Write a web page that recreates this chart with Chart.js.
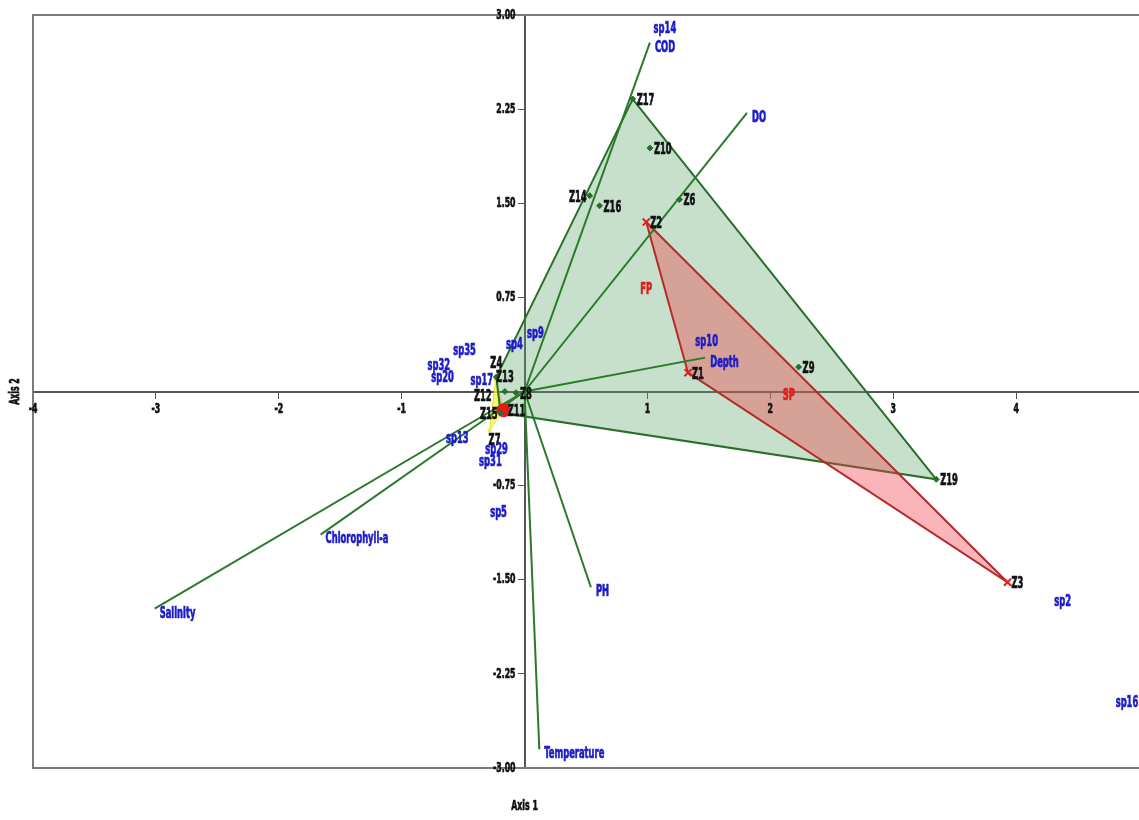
<!DOCTYPE html>
<html>
<head>
<meta charset="utf-8">
<script src="https://cdn.jsdelivr.net/npm/chart.js@4.4.0/dist/chart.umd.min.js"></script>
<style>
  html, body { margin: 0; padding: 0; background: #fff; overflow: hidden; }
  #wrap { width: 1139px; height: 820px; }
</style>
</head>
<body>
<div id="wrap"><canvas id="ccaChart"></canvas></div>
<script>
// sites, one set of arrays per group
var greenSites = ['Z17', 'Z10', 'Z14', 'Z16', 'Z6', 'Z9', 'Z19', 'Z4', 'Z13', 'Z8', 'Z15'];
var greenX = [0.88, 1.02, 0.53, 0.61, 1.26, 2.23, 3.35, -0.23, -0.16, -0.07, -0.195];
var greenY = [2.33, 1.94, 1.56, 1.48, 1.53, 0.195, -0.70, 0.115, 0.0, -0.01, -0.17];
var greenHull = ['Z17', 'Z19', 'Z15', 'Z4'];

var redSites = ['Z2', 'Z1', 'Z3'];
var redX = [0.99, 1.33, 3.93];
var redY = [1.35, 0.15, -1.52];
var redHull = ['Z2', 'Z3', 'Z1'];

var yellowSites = ['Z12', 'Z7', 'Z11'];
var yellowX = [-0.235, -0.285, -0.17];
var yellowY = [0.09, -0.31, -0.15];
var yellowHull = ['Z12', 'Z11', 'Z7'];

// environmental variables (arrow tips)
var envNames = ['COD', 'DO', 'Depth', 'PH', 'Temperature', 'Salinity', 'Chlorophyll-a'];
var envX = [1.02, 1.81, 1.47, 0.54, 0.12, -3.01, -1.66];
var envY = [2.78, 2.22, 0.27, -1.56, -2.85, -1.73, -1.14];

// species
var speciesNames = ['sp14', 'sp10', 'sp35', 'sp32', 'sp20', 'sp17', 'sp4', 'sp9', 'sp13', 'sp29', 'sp31', 'sp5', 'sp2', 'sp16'];
var speciesX = [1.05, 1.39, -0.58, -0.79, -0.76, -0.44, -0.15, 0.02, -0.64, -0.32, -0.37, -0.28, 4.31, 4.81];
var speciesY = [2.89, 0.39, 0.32, 0.20, 0.11, 0.08, 0.37, 0.46, -0.38, -0.47, -0.56, -0.97, -1.68, -2.48];

// group names
var groupNames = ['FP', 'SP'];
var groupX = [0.99, 2.15];
var groupY = [0.81, -0.04];

// labelled ticks
var xTickLabels = [-4, -3, -2, -1, 1, 2, 3, 4];
var yTickLabels = [-3, -2.25, -1.5, -0.75, 0.75, 1.5, 2.25, 3];

var FONT = "'Liberation Sans Narrow', 'DejaVu Sans Condensed', 'Arial Narrow', sans-serif";

function toPoints(names, xs, ys) {
  return names.map(function (n, i) { return { x: xs[i], y: ys[i], name: n }; });
}
function hullOf(order, names, xs, ys) {
  var pts = order.map(function (n) {
    var i = names.indexOf(n);
    return { x: xs[i], y: ys[i] };
  });
  pts.push(pts[0]);
  return pts;
}

// where a site label sits relative to its marker
var siteLabelSide = { Z14: 'left', Z12: 'leftlow', Z15: 'left', Z4: 'above', Z13: 'above', Z7: 'below' };

var datasets = [];

datasets.push({
  type: 'line', label: 'yellow hull', order: 12,
  data: hullOf(yellowHull, yellowSites, yellowX, yellowY),
  borderColor: '#e4e040', borderWidth: 1, backgroundColor: 'rgba(250,245,60,0.75)',
  fill: 'shape', pointRadius: 0, tension: 0
});
datasets.push({
  type: 'line', label: 'green hull', order: 11,
  data: hullOf(greenHull, greenSites, greenX, greenY),
  borderColor: '#2b6e2b', borderWidth: 2, backgroundColor: 'rgba(95,165,105,0.35)',
  fill: 'shape', pointRadius: 0, tension: 0
});
datasets.push({
  type: 'line', label: 'red hull', order: 10,
  data: hullOf(redHull, redSites, redX, redY),
  borderColor: '#b22a2a', borderWidth: 2, backgroundColor: 'rgba(238,60,70,0.38)',
  fill: 'shape', pointRadius: 0, tension: 0
});

envNames.forEach(function (n, i) {
  datasets.push({
    type: 'line', label: n, order: 5,
    data: [{ x: 0, y: 0, name: '' }, { x: envX[i], y: envY[i], name: n }],
    borderColor: '#2a7a2a', borderWidth: 2, pointRadius: 0, fill: false, tension: 0,
    labelColor: '#1c1cc8', labelPos: 'tip'
  });
});

datasets.push({
  label: 'green sites', order: 2,
  data: toPoints(greenSites, greenX, greenY),
  pointStyle: 'rectRot', pointRadius: 3, backgroundColor: '#2b6e2b', borderColor: '#2b6e2b',
  labelColor: '#111', labelPos: 'site'
});
datasets.push({
  label: 'yellow sites', order: 2,
  data: toPoints(yellowSites, yellowX, yellowY),
  pointStyle: 'circle',
  pointRadius: function (c) { return c.raw && c.raw.name === 'Z11' ? 7 : 2; },
  backgroundColor: function (c) { return c.raw && c.raw.name === 'Z11' ? '#e81818' : '#f0ea30'; },
  borderWidth: 0,
  labelColor: '#111', labelPos: 'site'
});
datasets.push({
  label: 'red sites', order: 2,
  data: toPoints(redSites, redX, redY),
  pointStyle: 'crossRot', pointRadius: 5, borderColor: '#e02020', borderWidth: 2,
  labelColor: '#111', labelPos: 'site'
});
datasets.push({
  label: 'species', order: 1,
  data: toPoints(speciesNames, speciesX, speciesY),
  pointRadius: 0,
  labelColor: '#1c1cc8', labelPos: 'text'
});
datasets.push({
  label: 'groups', order: 1,
  data: toPoints(groupNames, groupX, groupY),
  pointRadius: 0,
  labelColor: '#e02020', labelPos: 'center'
});

// condensed heavy text, squeezed horizontally
function narrowText(ctx, text, x, y, align) {
  ctx.save();
  ctx.translate(x, y);
  ctx.scale(0.62, 1);
  ctx.textAlign = align;
  ctx.lineWidth = 0.7;
  ctx.strokeStyle = ctx.fillStyle;
  ctx.fillText(text, 0, 0);
  ctx.strokeText(text, 0, 0);
  ctx.restore();
}

/* labels next to the points */
var pointLabels = {
  id: 'pointLabels',
  afterDatasetsDraw: function (chart) {
    var ctx = chart.ctx;
    chart.data.datasets.forEach(function (ds, i) {
      if (!ds.labelColor) return;
      var meta = chart.getDatasetMeta(i);
      ctx.save();
      ctx.font = 'bold 15px ' + FONT;
      ctx.fillStyle = ds.labelColor;
      ctx.textBaseline = 'middle';
      meta.data.forEach(function (el, j) {
        var name = ds.data[j].name;
        if (!name) return;
        var x = el.x, y = el.y;
        if (ds.labelPos === 'tip') {
          narrowText(ctx, name, x + 5, y + 5, 'left');
        } else if (ds.labelPos === 'site') {
          var side = siteLabelSide[name];
          if (side === 'left') narrowText(ctx, name, x - 3, y + 2, 'right');
          else if (side === 'leftlow') narrowText(ctx, name, x - 4, y + 17, 'right');
          else if (side === 'above') narrowText(ctx, name, x, y - 13, 'center');
          else if (side === 'below') narrowText(ctx, name, x + 5, y + 11, 'center');
          else narrowText(ctx, name, x + 4, y + 2, 'left');
        } else if (ds.labelPos === 'center') {
          narrowText(ctx, name, x, y, 'center');
        } else {
          narrowText(ctx, name, x, y, 'left');
        }
      });
      ctx.restore();
    });
  }
};

/* outer frame, tick labels and axis titles */
var frame = {
  id: 'frame',
  beforeDatasetsDraw: function (chart) {
    var a = chart.chartArea, ctx = chart.ctx;
    ctx.save();
    ctx.strokeStyle = '#7a7a7a';
    ctx.lineWidth = 2;
    ctx.beginPath();
    ctx.moveTo(a.right, a.top);
    ctx.lineTo(a.left, a.top);
    ctx.lineTo(a.left, a.bottom);
    ctx.lineTo(a.right, a.bottom);
    ctx.stroke();
    ctx.restore();
  },
  afterDraw: function (chart) {
    var a = chart.chartArea, ctx = chart.ctx;
    var xs = chart.scales.x, ys = chart.scales.y;
    var x0 = xs.getPixelForValue(0), y0 = ys.getPixelForValue(0);
    ctx.save();
    ctx.fillStyle = '#111';
    ctx.font = 'bold 14px ' + FONT;
    ctx.textBaseline = 'middle';
    xs.ticks.forEach(function (t) {
      if (xTickLabels.indexOf(t.value) < 0) return;
      narrowText(ctx, String(t.value), xs.getPixelForValue(t.value), y0 + 18, 'center');
    });
    ys.ticks.forEach(function (t) {
      if (yTickLabels.indexOf(t.value) < 0) return;
      narrowText(ctx, t.value.toFixed(2), x0 - 9, ys.getPixelForValue(t.value), 'right');
    });
    narrowText(ctx, 'Axis 1', x0, a.bottom + 38, 'center');
    ctx.translate(15, y0);
    ctx.rotate(-Math.PI / 2);
    narrowText(ctx, 'Axis 2', 0, 0, 'center');
    ctx.restore();
  }
};

var ctx = document.getElementById('ccaChart');
var ccaChart = new Chart(ctx, {
  type: 'scatter',
  data: { datasets: datasets },
  plugins: [frame, pointLabels],
  options: {
    responsive: true,
    maintainAspectRatio: false,
    animation: false,
    layout: { autoPadding: false, padding: { left: 33, top: 15, right: 0, bottom: 52 } },
    plugins: { legend: { display: false }, tooltip: { enabled: false } },
    scales: {
      x: {
        type: 'linear', position: { y: 0 }, min: -4, max: 5,
        ticks: { stepSize: 1, display: false },
        grid: { drawOnChartArea: false, color: '#555', tickLength: 6 },
        border: { color: '#555', width: 2 }
      },
      y: {
        type: 'linear', position: { x: 0 }, min: -3, max: 3,
        ticks: { stepSize: 0.75, display: false },
        grid: { drawOnChartArea: false, color: '#555', tickLength: 6 },
        border: { color: '#555', width: 2 }
      }
    }
  }
});
</script>
</body>
</html>
